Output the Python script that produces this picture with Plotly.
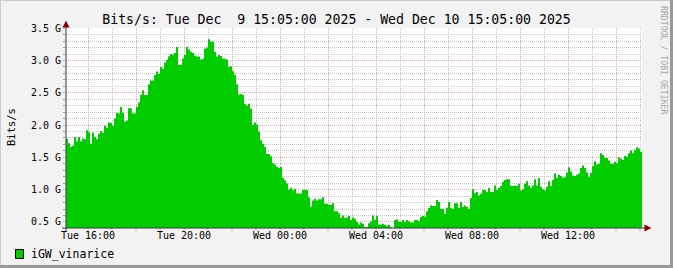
import pandas as pd
import plotly.graph_objects as go

# ---------------- data ----------------
start_time = "2025-12-09 15:05:00"
end_time = "2025-12-10 15:05:00"
step = "5min"

# traffic in Gbit/s, one value per 5-minute step
bits_g = [
    1.785, 1.72, 1.66, 1.68, 1.815, 1.75, 1.815, 1.75, 1.79, 1.78,
    1.92, 1.89, 1.71, 1.88, 1.815, 1.78, 1.865, 1.905, 1.875, 1.99,
    1.96, 2.04, 2.03, 1.99, 2.10, 2.19, 2.18, 2.28, 2.19, 2.05,
    2.07, 2.26, 2.26, 2.18, 2.18, 2.28, 2.35, 2.465, 2.54, 2.465,
    2.465, 2.63, 2.69, 2.69, 2.775, 2.83, 2.79, 2.90, 2.87, 2.97,
    3.01, 3.065, 3.10, 3.09, 3.115, 3.21,
    2.93,
    2.93, 3.03, 3.085, 3.21, 3.17, 3.135, 3.115, 3.075, 3.06, 3.06,
    3.015, 3.025, 3.18, 3.20, 3.33, 3.29, 3.29, 3.135, 3.06, 3.085,
    3.07, 3.025, 3.025, 3.015, 2.90, 2.91, 2.835, 2.775, 2.63, 2.475,
    2.48, 2.465, 2.33, 2.30, 2.33, 2.25, 2.0, 2.04, 2.01, 1.90,
    1.765, 1.71, 1.66, 1.55, 1.55, 1.515, 1.41, 1.39, 1.35, 1.34,
    1.35, 1.185, 1.145, 1.095, 1.0, 1.03, 0.99, 1.01, 0.94,
    0.94, 0.94, 0.995, 0.995, 0.995, 0.88, 0.735, 0.83, 0.86, 0.83,
    0.85, 0.85, 0.88, 0.78, 0.78, 0.76, 0.76, 0.79, 0.665, 0.665,
    0.635, 0.56, 0.60, 0.56, 0.57, 0.59, 0.53, 0.57, 0.55, 0.50,
    0.46, 0.49, 0.47, 0.42, 0.42, 0.48, 0.51, 0.60, 0.53, 0.59,
    0.46, 0.46, 0.47, 0.455, 0.44, 0.455, 0.42, 0.41, 0.53, 0.54,
    0.50, 0.50, 0.53, 0.50, 0.53, 0.51, 0.49, 0.49,
    0.53, 0.53, 0.51, 0.58, 0.59, 0.58, 0.665, 0.715, 0.755, 0.745,
    0.745, 0.84, 0.81, 0.70, 0.70, 0.625, 0.72, 0.81, 0.72, 0.70,
    0.79, 0.79, 0.72, 0.81, 0.73, 0.755, 0.73, 0.70, 0.87, 1.005,
    0.945, 0.965, 0.91, 0.935, 0.995, 0.995, 0.965, 1.025, 0.965, 0.965,
    1.065, 0.995, 1.025, 1.055, 1.12, 1.15, 1.16, 1.16, 1.055, 1.055,
    1.065, 1.055, 1.09, 0.985, 1.005, 1.09, 1.13, 1.065,
    1.025, 1.065, 1.16, 1.065, 1.18, 1.045, 1.005, 0.985, 1.045, 1.13,
    1.055, 1.15, 1.25, 1.18, 1.23, 1.21, 1.18, 1.19, 1.26, 1.345,
    1.28, 1.22, 1.21, 1.23, 1.25, 1.335, 1.375, 1.335, 1.27, 1.20,
    1.26, 1.365, 1.44, 1.39, 1.40, 1.565, 1.535, 1.49, 1.49, 1.45,
    1.40, 1.40, 1.43, 1.41, 1.50, 1.48, 1.46, 1.52, 1.51, 1.565,
    1.605, 1.565, 1.615, 1.655, 1.635, 1.585,
]

y_tick_values = [0.5, 1.0, 1.5, 2.0, 2.5, 3.0, 3.5]
y_tick_labels = ["0.5 G", "1.0 G", "1.5 G", "2.0 G", "2.5 G", "3.0 G", "3.5 G"]
y_min, y_max = 0.4057, 3.503

title_text = "Bits/s: Tue Dec \u00a09 15:05:00 2025 - Wed Dec 10 15:05:00 2025"
unit_text = "Bits/s"
series_name = "iGW_vinarice"
watermark_text = "RRDTOOL / TOBI OETIKER"

# ---------------- styling ----------------
W, H = 673, 268
L, R, T, B = 66, 31, 28, 40
PW, PH = W - L - R, H - T - B
MONO = "DejaVu Sans Mono"
BG = "#f2f2f2"
GREEN = "#00cc00"
MAJOR = "#f2a0a0"
MINOR = "#c4c4c4"
ARROW = "#8b0000"
AXIS = "#3a3a3a"


def px(x):
    return (x - L) / PW


def py(y):
    return (H - B - y) / PH


times = pd.date_range(start_time, periods=len(bits_g) + 1, freq=step)
yvals = bits_g + [bits_g[-1]]

major_x = pd.date_range("2025-12-09 16:00:00", "2025-12-10 14:00:00", freq="2h")
major_x_text = [t.strftime("%a %H:%M") if t.hour % 4 == 0 else "" for t in major_x]

fig = go.Figure()
fig.add_trace(go.Scatter(
    x=times, y=yvals, mode="lines", line=dict(width=0, shape="hv", color=GREEN),
    fill="tozeroy", fillcolor=GREEN, name=series_name, showlegend=False,
    hoverinfo="skip",
))

fig.update_layout(
    width=W, height=H,
    margin=dict(l=L, r=R, t=T, b=B, pad=0),
    paper_bgcolor=BG, plot_bgcolor="#ffffff",
    font=dict(family=MONO, size=10, color="#000000"),
    title=dict(text=title_text, x=0.5, xref="container", xanchor="center",
               y=1 - 19.5 / H, yref="container", yanchor="middle",
               font=dict(family=MONO, size=13.2, color="#000000")),
    xaxis=dict(
        range=[start_time, end_time], type="date",
        tickmode="array", tickvals=list(major_x), ticktext=major_x_text,
        showgrid=True, gridcolor=MAJOR, griddash="1px,1px", gridwidth=1,
        ticks="",
        tickfont=dict(family=MONO, size=10),
        showline=False, zeroline=False,
        minor=dict(tickmode="linear", tick0="2025-12-09 15:00:00", dtick=3600000,
                   showgrid=True, gridcolor=MINOR, griddash="1px,1px", gridwidth=1,
                   ticks=""),
    ),
    yaxis=dict(
        range=[y_min, y_max],
        tickmode="array", tickvals=y_tick_values, ticktext=y_tick_labels,
        showgrid=True, gridcolor=MAJOR, griddash="1px,1px", gridwidth=1,
        ticks="outside", ticklen=2, tickcolor=MAJOR,
        tickfont=dict(family=MONO, size=10),
        showline=False, zeroline=False,
        minor=dict(tickmode="linear", tick0=0.5, dtick=0.1,
                   showgrid=True, gridcolor=MINOR, griddash="1px,1px", gridwidth=1,
                   ticks="outside", ticklen=2, tickcolor="#999999"),
    ),
)

shapes = []
# frame shading
shapes.append(dict(type="line", xref="paper", yref="paper", x0=px(0), x1=px(W), y0=py(0.5), y1=py(0.5),
                   line=dict(color="#cbcbcb", width=1)))
shapes.append(dict(type="line", xref="paper", yref="paper", x0=px(0.5), x1=px(0.5), y0=py(0), y1=py(H),
                   line=dict(color="#cbcbcb", width=1)))
shapes.append(dict(type="line", xref="paper", yref="paper", x0=px(0), x1=px(W), y0=py(H - 1.5), y1=py(H - 1.5),
                   line=dict(color="#999999", width=3)))
shapes.append(dict(type="line", xref="paper", yref="paper", x0=px(W - 1.5), x1=px(W - 1.5), y0=py(0), y1=py(H),
                   line=dict(color="#999999", width=3)))
# x-axis ticks below the axis line (hourly, red on even hours)
hour_ticks = pd.date_range("2025-12-09 16:00:00", "2025-12-10 15:00:00", freq="1h")
for t in hour_ticks:
    shapes.append(dict(type="line", xref="x", yref="paper", x0=t, x1=t, y0=py(228), y1=py(231),
                       line=dict(color=MAJOR if t.hour % 2 == 0 else "#b0b0b0", width=1)))
# axis lines
shapes.append(dict(type="line", xref="paper", yref="paper", x0=px(62), x1=px(646), y0=0, y1=0,
                   line=dict(color=AXIS, width=1)))
shapes.append(dict(type="line", xref="paper", yref="paper", x0=0, x1=0, y0=py(232), y1=py(24),
                   line=dict(color=AXIS, width=1)))
# arrows
shapes.append(dict(type="path", xref="paper", yref="paper",
                   path=f"M {px(62.5)},{py(27.5)} L {px(69.5)},{py(27.5)} L {px(66)},{py(20.5)} Z",
                   fillcolor=ARROW, line=dict(width=0)))
shapes.append(dict(type="path", xref="paper", yref="paper",
                   path=f"M {px(644.5)},{py(224.5)} L {px(644.5)},{py(231.5)} L {px(651.5)},{py(228)} Z",
                   fillcolor=ARROW, line=dict(width=0)))
# legend swatch
shapes.append(dict(type="rect", xref="paper", yref="paper",
                   x0=px(15.5), x1=px(23.5), y0=py(258.5), y1=py(249.5),
                   fillcolor=GREEN, line=dict(color="#000000", width=1)))
fig.update_layout(shapes=shapes)

fig.add_annotation(text=unit_text, xref="paper", yref="paper", x=px(11), y=py(127),
                   showarrow=False, textangle=-90, xanchor="center", yanchor="middle",
                   font=dict(family=MONO, size=10.5, color="#000000"))
fig.add_annotation(text=series_name, xref="paper", yref="paper", x=px(29), y=py(254),
                   showarrow=False, xanchor="left", yanchor="middle",
                   font=dict(family=MONO, size=11.5, color="#000000"))
fig.add_annotation(text=watermark_text, xref="paper", yref="paper", x=px(664), y=py(60),
                   showarrow=False, textangle=90, xanchor="center", yanchor="middle",
                   font=dict(family=MONO, size=8.2, color="#a8a8a8"))

fig.write_html("out.html")
